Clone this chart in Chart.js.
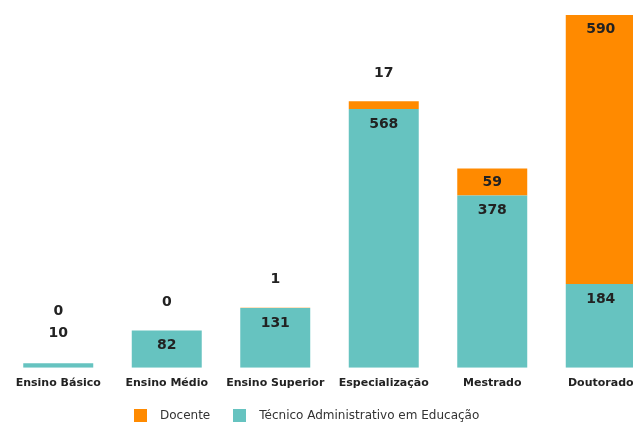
<!DOCTYPE html>
<html>
<head>
<meta charset="utf-8">
<script src="https://cdn.jsdelivr.net/npm/chart.js@4/dist/chart.umd.min.js"></script>
<style>
  html, body { margin: 0; padding: 0; background: #fff; overflow: hidden; width: 633px; height: 424px; }
  #wrap { position: relative; width: 633px; height: 424px; overflow: hidden; }
  #chart { position: absolute; left: 0; top: 0; }
  .legend { position: absolute; top: 408px; left: 134px; height: 14px; display: flex; align-items: center;
    font-family: 'DejaVu Sans', sans-serif; font-size: 12px; color: #333; white-space: nowrap; }
  .legend .box { width: 13px; height: 13px; display: inline-block; margin-right: 13px; }
  .legend .item { display: flex; align-items: center; margin-right: 23px; }
</style>
</head>
<body>
<div id="wrap">
  <canvas id="chart" width="660" height="424"></canvas>
  <div class="legend" id="legend"></div>
</div>
<script>
const CATEGORIES = ['Ensino Básico', 'Ensino Médio', 'Ensino Superior', 'Especialização', 'Mestrado', 'Doutorado'];
const TECNICO = [10, 82, 131, 568, 378, 184];
const DOCENTE = [0, 0, 1, 17, 59, 590];

const ORANGE = '#FF8A00';
const TEAL = '#66C3C0';
const TEXT = '#222';

const totals = TECNICO.map((v, i) => v + DOCENTE[i]);

// value labels: inside the segment when there is room, otherwise stacked above it
const valueLabels = {
  id: 'valueLabels',
  afterDatasetsDraw(chart) {
    const ctx = chart.ctx;
    const tec = chart.getDatasetMeta(0).data;
    const doc = chart.getDatasetMeta(1).data;
    ctx.save();
    ctx.font = 'bold 14px "DejaVu Sans", sans-serif';
    ctx.fillStyle = TEXT;
    ctx.textAlign = 'center';
    ctx.textBaseline = 'middle';
    tec.forEach((bar, i) => {
      const h = bar.base - bar.y;
      let tecOutside = false;
      if (h >= 28) {
        ctx.fillText(TECNICO[i], bar.x, bar.y + 15);
      } else {
        tecOutside = true;
        ctx.fillText(TECNICO[i], bar.x, bar.y - 30);
      }
      const d = doc[i];
      const dh = d.base - d.y;
      if (dh >= 20) {
        ctx.fillText(DOCENTE[i], d.x, d.y + 14);
      } else if (tecOutside) {
        ctx.fillText(DOCENTE[i], d.x, bar.y - 52);
      } else {
        ctx.fillText(DOCENTE[i], d.x, d.y - 28);
      }
    });
    ctx.restore();
  }
};

new Chart(document.getElementById('chart'), {
  type: 'bar',
  data: {
    labels: CATEGORIES,
    datasets: [
      { label: 'Técnico Administrativo em Educação', data: TECNICO, backgroundColor: TEAL,
        categoryPercentage: 0.645, barPercentage: 1 },
      { label: 'Docente', data: DOCENTE, backgroundColor: ORANGE,
        categoryPercentage: 0.645, barPercentage: 1 },
    ],
  },
  options: {
    responsive: false,
    animation: false,
    layout: { padding: { top: 15, left: 4, right: 5, bottom: 25 } },
    plugins: {
      legend: { display: false },
      tooltip: { enabled: false },
    },
    scales: {
      x: {
        stacked: true,
        grid: { display: false, drawTicks: false },
        border: { display: false },
        ticks: {
          color: TEXT,
          padding: 9,
          maxRotation: 0,
          autoSkip: false,
          font: { family: 'DejaVu Sans', size: 11, weight: 'bold' },
        },
      },
      y: {
        stacked: true,
        display: false,
        min: 0,
        max: Math.max(...totals),
      },
    },
  },
  plugins: [valueLabels],
});

// legend drawn as html under the plot
const legend = document.getElementById('legend');
[['Docente', ORANGE], ['Técnico Administrativo em Educação', TEAL]].forEach(([name, color]) => {
  const item = document.createElement('span');
  item.className = 'item';
  const box = document.createElement('span');
  box.className = 'box';
  box.style.background = color;
  item.appendChild(box);
  item.appendChild(document.createTextNode(name));
  legend.appendChild(item);
});
</script>
</body>
</html>
